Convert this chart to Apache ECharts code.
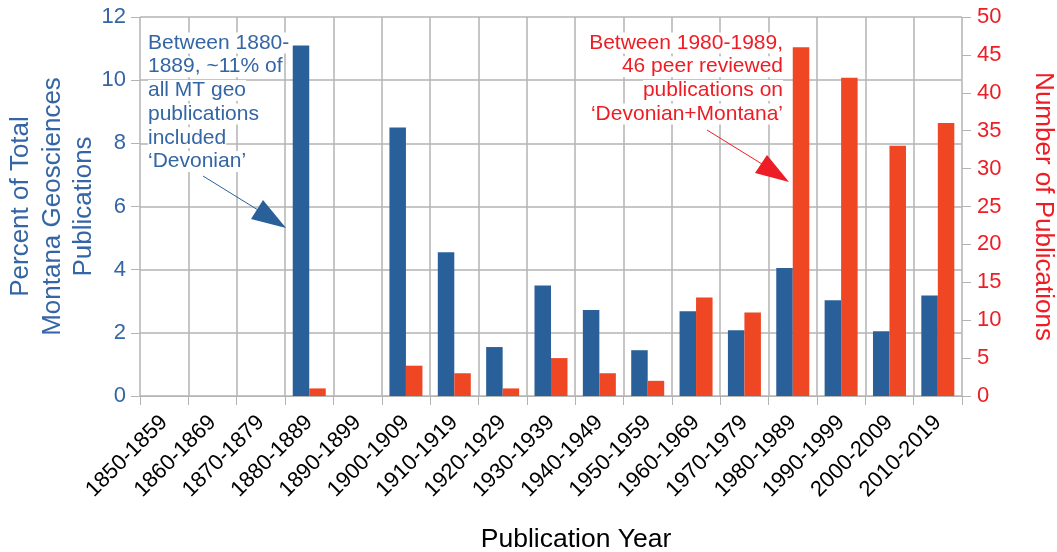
<!DOCTYPE html>
<html>
<head>
<meta charset="utf-8">
<script src="https://cdn.jsdelivr.net/npm/echarts@6/dist/echarts.min.js"></script>
<style>
  html, body { margin: 0; padding: 0; background: #fff; }
  #chart { width: 1057px; height: 552px; }
</style>
</head>
<body>
<div id="chart"></div>
<script>
const decades = ['1850-1859', '1860-1869', '1870-1879', '1880-1889', '1890-1899', '1900-1909', '1910-1919',
  '1920-1929', '1930-1939', '1940-1949', '1950-1959', '1960-1969', '1970-1979', '1980-1989', '1990-1999',
  '2000-2009', '2010-2019'];
const percentOfTotal = [0, 0, 0, 11.1, 0, 8.5, 4.55, 1.55, 3.5, 2.72, 1.45, 2.68, 2.08, 4.05, 3.03, 2.05, 3.18];
const publicationCount = [0, 0, 0, 1, 0, 4, 3, 1, 5, 3, 2, 13, 11, 46, 42, 33, 36];

const leftNote = ['Between 1880-', '1889, ~11% of', 'all MT geo', 'publications', 'included', '\u2018Devonian\u2019'];
const rightNote = ['Between 1980-1989,', '46 peer reviewed', 'publications on', '\u2018Devonian+Montana\u2019'];

const BLUE = '#2a6099';
const BLUE_TEXT = '#3465a4';
const ORANGE = '#ef4623';
const RED_TEXT = '#ee1c24';
const GRID = '#b3b3b3';
const FONT = 'Liberation Sans';

// one text element per line, each with a white box so gridlines stop behind it
function noteLines(lines, x, y0, align, color) {
  return lines.map((t, i) => ({
    type: 'text', z: 50,
    style: {
      text: t, x, y: y0 + i * 23.7, align, verticalAlign: 'middle',
      font: `21px "${FONT}"`, fill: color, backgroundColor: '#fff'
    }
  }));
}

function arrow(from, shaftEnd, tip, c1, c2, color) {
  return [
    { type: 'line', z: 50, shape: { x1: from[0], y1: from[1], x2: shaftEnd[0], y2: shaftEnd[1] }, style: { stroke: color, lineWidth: 1 } },
    { type: 'polygon', z: 50, shape: { points: [tip, c1, c2] }, style: { fill: color } }
  ];
}

const chart = echarts.init(document.getElementById('chart'));
chart.setOption({
  backgroundColor: '#fff',
  animation: false,
  textStyle: { fontFamily: FONT },
  grid: { left: 140, right: 95, top: 17, bottom: 156, containLabel: false, outerBoundsMode: 'none' },
  xAxis: {
    type: 'category', data: decades,
    name: 'Publication Year', nameLocation: 'middle', nameGap: 130, nameMoveOverlap: false,
    nameTextStyle: { color: '#000', fontSize: 26.5, padding: [0, 0, 0, 50] },
    axisLine: { show: true, lineStyle: { color: GRID } },
    axisTick: { show: true, length: 9, interval: 0, lineStyle: { color: GRID } },
    splitLine: { show: true, interval: 0, lineStyle: { color: GRID, width: 1.5 } },
    axisLabel: { rotate: 45, interval: 0, color: '#000', fontSize: 22, margin: 23 }
  },
  yAxis: [
    {
      type: 'value', min: 0, max: 12, interval: 2, position: 'left',
      name: 'Percent of Total\nMontana Geosciences\nPublications', nameLocation: 'middle', nameGap: 40, nameRotate: 90,
      nameMoveOverlap: false,
      nameTextStyle: { color: BLUE_TEXT, fontSize: 26, lineHeight: 31.5 },
      axisLine: { show: false },
      axisTick: { show: true, length: 9, lineStyle: { color: GRID } },
      splitLine: { show: true, lineStyle: { color: GRID, width: 1.5 } },
      axisLabel: { color: BLUE_TEXT, fontSize: 22, margin: 14 }
    },
    {
      type: 'value', min: 0, max: 50, interval: 5, position: 'right',
      name: 'Number of Publications', nameLocation: 'middle', nameGap: 68, nameRotate: -90,
      nameMoveOverlap: false,
      nameTextStyle: { color: RED_TEXT, fontSize: 26 },
      axisLine: { show: false },
      axisTick: { show: true, length: 9, lineStyle: { color: GRID } },
      splitLine: { show: false },
      axisLabel: { color: RED_TEXT, fontSize: 22, margin: 15 }
    }
  ],
  series: [
    { name: 'Percent', type: 'bar', yAxisIndex: 0, data: percentOfTotal, barWidth: 16.5, barGap: '0%', itemStyle: { color: BLUE } },
    { name: 'Count', type: 'bar', yAxisIndex: 1, data: publicationCount, barWidth: 16.5, barGap: '0%', itemStyle: { color: ORANGE } }
  ],
  graphic: [
    ...noteLines(leftNote, 148, 43, 'left', BLUE_TEXT),
    ...noteLines(rightNote, 783, 43, 'right', RED_TEXT),
    ...arrow([203, 176], [258, 210], [286, 228], [263, 200], [251, 219], BLUE),
    ...arrow([707, 130], [762, 164], [789, 182], [767, 155], [755, 173], RED_TEXT)
  ]
});
</script>
</body>
</html>
